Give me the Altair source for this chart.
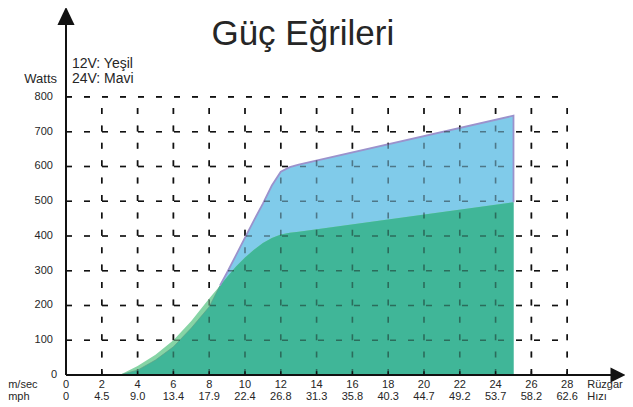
import altair as alt
import pandas as pd

# ---- data ----
wind_ms = [0, 2, 4, 6, 8, 10, 12, 14, 16, 18, 20, 22, 24, 26, 28]
wind_mph = ["0", "4.5", "9.0", "13.4", "17.9", "22.4", "26.8", "31.3",
            "35.8", "40.3", "44.7", "49.2", "53.7", "58.2", "62.6"]
watt_ticks = [100, 200, 300, 400, 500, 600, 700, 800]

curve_ms = [3, 4, 5, 6, 7, 8, 8.6, 9, 9.5, 10, 10.5, 11, 11.5, 12, 12.5, 13, 25]
green_12v = [0, 26, 58, 100, 155, 220, 257, 282, 312, 338, 360, 380, 394, 404, 409, 412, 497]
blue_24v = [0, 14, 43, 81, 135, 196, 257, 295, 345, 395, 445, 493, 545, 585, 598, 605, 746]

title_text = "Güç Eğrileri"
legend_lines = ["12V: Yeşil", "24V: Mavi"]

# ---- scales ----
X_MAX = 31.23
Y_MAX = 1055.8
FONT = "Liberation Sans"
TXT = "#262626"
xs = alt.Scale(domain=[0, X_MAX], nice=False, zero=False)
ys = alt.Scale(domain=[0, Y_MAX], nice=False, zero=False)


def X(f):
    return alt.X(f, type="quantitative", scale=xs, axis=None)


def Y(f):
    return alt.Y(f, type="quantitative", scale=ys, axis=None)


curves = pd.DataFrame({"x": curve_ms, "g": green_12v, "b": blue_24v})
curves["m"] = curves[["g", "b"]].min(axis=1)

grid_h = pd.DataFrame({"y": watt_ticks, "x0": 0, "x1": 28})
grid_v = pd.DataFrame({"x": wind_ms[1:], "y0": 0, "y1": 800})


def grid(opacity):
    h = alt.Chart(grid_h).mark_rule(strokeDash=[6, 12], strokeWidth=1.6, color="#111",
                                    opacity=opacity).encode(x=X("x0"), x2="x1", y=Y("y"))
    v = alt.Chart(grid_v).mark_rule(strokeDash=[6, 11.4], strokeWidth=1.6, color="#111",
                                    opacity=opacity).encode(x=X("x"), y=Y("y0"), y2="y1")
    return [h, v]


base = alt.Chart(curves)
blue_area = base.mark_area(color="#80cbea").encode(x=X("x"), y=Y("b"))
green_area = base.mark_area(color="#86d4a5").encode(x=X("x"), y=Y("g"))
teal_area = base.mark_area(color="#40b698").encode(x=X("x"), y=Y("m"))

low = curves[curves["x"] <= 8.6]
low_line = alt.Chart(low).mark_line(color="#5e9f88", strokeWidth=1, opacity=0.7).encode(
    x=X("x"), y=Y("b"))

hi = curves[curves["x"] >= 8.6][["x", "b"]].copy()
hi["o"] = range(len(hi))
hi = pd.concat([hi, pd.DataFrame({"x": [curve_ms[-1]], "b": [green_12v[-1]], "o": [len(hi)]})])
purple_line = alt.Chart(hi).mark_line(color="#9b92cc", strokeWidth=1.8).encode(
    x=X("x"), y=Y("b"), order="o:Q")

# axes
yaxis = alt.Chart(pd.DataFrame({"x": [0], "y0": [0], "y1": [1007]})).mark_rule(
    color="#111", strokeWidth=2).encode(x=X("x"), y=Y("y0"), y2="y1")
xaxis = alt.Chart(pd.DataFrame({"x0": [0], "x1": [30.5], "y": [0]})).mark_rule(
    color="#111", strokeWidth=2).encode(x=X("x0"), x2="x1", y=Y("y"))
ticks = alt.Chart(pd.DataFrame({"x": wind_ms[1:], "y0": 0, "y1": 11})).mark_rule(
    color="#111", strokeWidth=1.5).encode(x=X("x"), y=Y("y0"), y2="y1")
arrow_up = alt.Chart(pd.DataFrame({"x": [0], "y": [1033]})).mark_point(
    shape="M0,-1L0.95,1L-0.95,1Z", size=324, filled=True, color="#111", opacity=1).encode(
    x=X("x"), y=Y("y"))
arrow_right = alt.Chart(pd.DataFrame({"x": [30.84], "y": [0]})).mark_point(
    shape="M1,0L-1,-1L-1,1Z", size=225, filled=True, color="#111", opacity=1).encode(
    x=X("x"), y=Y("y"))

# texts
ROW1 = -37.4
ROW2 = -71.9
ylab = alt.Chart(pd.DataFrame({"y": watt_ticks, "x": -0.73, "t": [str(v) for v in watt_ticks]})).mark_text(
    align="right", baseline="middle", font=FONT, fontSize=11, color=TXT).encode(
    x=X("x"), y=Y("y"), text="t:N")
ylab0 = alt.Chart(pd.DataFrame({"y": [0], "x": [-0.5], "t": ["0"]})).mark_text(
    align="right", baseline="middle", font=FONT, fontSize=11, color=TXT).encode(
    x=X("x"), y=Y("y"), text="t:N")
xlab1 = alt.Chart(pd.DataFrame({"x": wind_ms, "y": ROW1, "t": [str(v) for v in wind_ms]})).mark_text(
    align="center", baseline="alphabetic", font=FONT, fontSize=11, color=TXT).encode(
    x=X("x"), y=Y("y"), text="t:N")
xlab2 = alt.Chart(pd.DataFrame({"x": wind_ms, "y": ROW2, "t": wind_mph})).mark_text(
    align="center", baseline="alphabetic", font=FONT, fontSize=11, color=TXT).encode(
    x=X("x"), y=Y("y"), text="t:N")

side = pd.DataFrame({
    "x": [-3.23, -3.23, 29.12, 29.12],
    "y": [ROW1, ROW2, ROW1, ROW2],
    "t": ["m/sec", "mph", "Rüzgar", "Hızı"],
})
sidelab = alt.Chart(side).mark_text(align="left", baseline="alphabetic", font=FONT,
                                    fontSize=11, color=TXT).encode(
    x=X("x"), y=Y("y"), text="t:N")

watts = alt.Chart(pd.DataFrame({"x": [-0.5], "y": [839], "t": ["Watts"]})).mark_text(
    align="right", baseline="alphabetic", font=FONT, fontSize=13, color=TXT).encode(
    x=X("x"), y=Y("y"), text="t:N")
legend = alt.Chart(pd.DataFrame({"x": [0.33, 0.33], "y": [882, 839], "t": legend_lines})).mark_text(
    align="left", baseline="alphabetic", font=FONT, fontSize=14, color=TXT).encode(
    x=X("x"), y=Y("y"), text="t:N")
title = alt.Chart(pd.DataFrame({"x": [13.23], "y": [950], "t": [title_text]})).mark_text(
    align="center", baseline="alphabetic", font=FONT, fontSize=35, color=TXT).encode(
    x=X("x"), y=Y("y"), text="t:N")

layers = (grid(1.0) + [blue_area, green_area, teal_area, low_line, purple_line] + grid(0.45)
          + [xaxis, yaxis, ticks, arrow_up, arrow_right, ylab, ylab0, xlab1, xlab2, sidelab,
             watts, legend, title])

chart = alt.layer(*layers).properties(
    width=559, height=367,
    autosize=alt.AutoSizeParams(type="none"),
    padding={"left": 58, "top": 0, "right": 0, "bottom": 27},
).configure_view(stroke=None)

chart.save("out.html", embed_options={"renderer": "svg", "actions": False})
